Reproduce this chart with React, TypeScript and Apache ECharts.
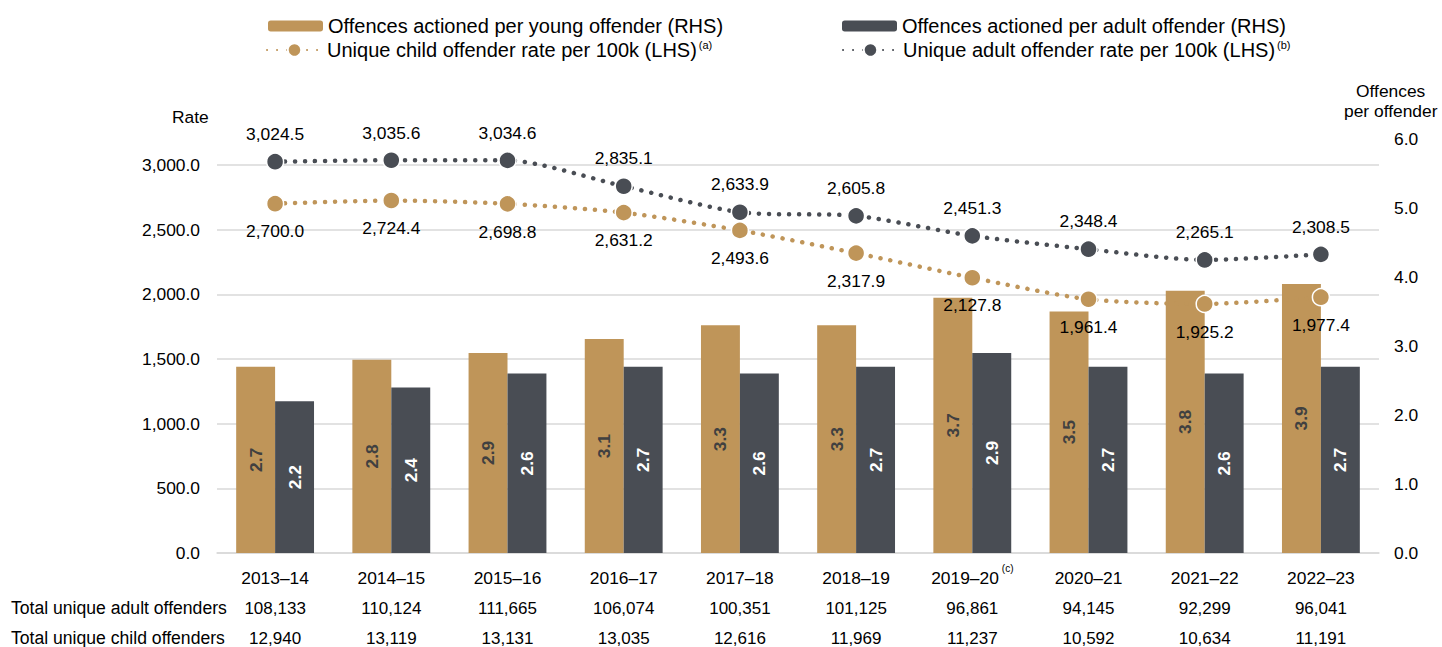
import React, { useEffect, useRef } from "react";
import * as echarts from "echarts";

const categories = ["2013–14", "2014–15", "2015–16", "2016–17", "2017–18", "2018–19", "2019–20", "2020–21", "2021–22", "2022–23"];
const categoryNotes = ["", "", "", "", "", "", "(c)", "", "", ""];
const youngPerOffender = [2.7, 2.8, 2.9, 3.1, 3.3, 3.3, 3.7, 3.5, 3.8, 3.9];
const adultPerOffender = [2.2, 2.4, 2.6, 2.7, 2.6, 2.7, 2.9, 2.7, 2.6, 2.7];
const childRate = [2700.0, 2724.4, 2698.8, 2631.2, 2493.6, 2317.9, 2127.8, 1961.4, 1925.2, 1977.4];
const adultRate = [3024.5, 3035.6, 3034.6, 2835.1, 2633.9, 2605.8, 2451.3, 2348.4, 2265.1, 2308.5];
const totalAdultOffenders = ["108,133", "110,124", "111,665", "106,074", "100,351", "101,125", "96,861", "94,145", "92,299", "96,041"];
const totalChildOffenders = ["12,940", "13,119", "13,131", "13,035", "12,616", "11,969", "11,237", "10,592", "10,634", "11,191"];
const rowHeaders = ["Total unique adult offenders", "Total unique child offenders"];

const NAME_YOUNG = "Offences actioned per young offender (RHS)";
const NAME_ADULT = "Offences actioned per adult offender (RHS)";
const NAME_CHILD_RATE = "Unique child offender rate per 100k (LHS)";
const NAME_ADULT_RATE = "Unique adult offender rate per 100k (LHS)";

const TAN = "#BF9559";
const DARK = "#494D54";
const GRID = "#D9D9D9";
const FONT = "'Liberation Sans', Arial, sans-serif";
const FS = 17.4;
const LFS = 20;

const fmt1 = (v: number) =>
  v.toLocaleString("en-US", { minimumFractionDigits: 1, maximumFractionDigits: 1 });

export default function App() {
  const ref = useRef<HTMLDivElement>(null);

  useEffect(() => {
    if (!ref.current) return;
    const chart = echarts.init(ref.current, undefined, { renderer: "svg" });

    const legendRich = {
      n: { fontSize: LFS, fontFamily: FONT, color: "#000" },
      s: { fontSize: 11, fontFamily: FONT, color: "#000", verticalAlign: "top", padding: [0, 0, 11, 2] },
    };
    const legendFormatter = (name: string) => {
      if (name === NAME_CHILD_RATE) return `{n|${name}}{s|(a)}`;
      if (name === NAME_ADULT_RATE) return `{n|${name}}{s|(b)}`;
      return `{n|${name}}`;
    };
    const mkLegend = (name: string, left: number, top: number, h: number) => ({
      data: [name],
      left,
      top,
      padding: 0,
      itemWidth: 55,
      itemHeight: h,
      itemGap: 0,
      selectedMode: false,
      formatter: legendFormatter,
      textStyle: { fontSize: LFS, fontFamily: FONT, color: "#000", rich: legendRich },
    });

    const lineSeries = (name: string, data: number[], color: string, pos: "top" | "bottom") => ({
      name,
      type: "line",
      yAxisIndex: 0,
      data,
      smooth: 0.25,
      symbol: "circle",
      symbolSize: 17,
      z: 5,
      lineStyle: { color, width: 4.5, type: [0.1, 9.9], cap: "round" },
      itemStyle: { color, borderColor: "#fff", borderWidth: 1.5 },
      label: {
        show: true,
        position: pos,
        distance: 10,
        formatter: (p: any) => fmt1(p.value),
        fontSize: FS,
        fontFamily: FONT,
        color: "#000",
      },
    });

    chart.setOption({
      animation: false,
      textStyle: { fontFamily: FONT },
      legend: [
        mkLegend(NAME_YOUNG, 268, 16, 11),
        mkLegend(NAME_CHILD_RATE, 266, 39, 17),
        mkLegend(NAME_ADULT, 842, 16, 11),
        mkLegend(NAME_ADULT_RATE, 842, 39, 17),
      ],
      grid: { left: 217, right: 63, top: 139, bottom: 94, containLabel: false },
      xAxis: {
        type: "category",
        data: categories,
        axisTick: { show: false },
        axisLine: { lineStyle: { color: GRID, width: 1.5 } },
        axisLabel: {
          interval: 0,
          margin: 10,
          formatter: (v: string, i: number) =>
            `{c|${v}}${categoryNotes[i] ? `{s|${categoryNotes[i]}}` : ""}\n{v|${totalAdultOffenders[i]}}\n{v|${totalChildOffenders[i]}}`,
          rich: {
            c: { fontSize: FS, fontFamily: FONT, color: "#000", lineHeight: 30 },
            v: { fontSize: 17, fontFamily: FONT, color: "#000", lineHeight: 30 },
            s: { fontSize: 10, fontFamily: FONT, color: "#000", verticalAlign: "top", padding: [0, 0, 12, 3] },
          },
        },
      },
      yAxis: [
        {
          type: "value",
          min: 0,
          max: 3200,
          interval: 500,
          axisLine: { show: false },
          axisTick: { show: false },
          axisLabel: {
            showMaxLabel: false,
            margin: 17,
            formatter: (v: number) => fmt1(v),
            fontSize: FS,
            fontFamily: FONT,
            color: "#000",
          },
          splitLine: { show: true, showMaxLine: false, lineStyle: { color: GRID, width: 1.5 } },
        },
        {
          type: "value",
          min: 0,
          max: 6,
          interval: 1,
          position: "right",
          axisLine: { show: false },
          axisTick: { show: false },
          splitLine: { show: false },
          axisLabel: {
            margin: 15,
            formatter: (v: number) => v.toFixed(1),
            fontSize: FS,
            fontFamily: FONT,
            color: "#000",
          },
        },
      ],
      graphic: [
        { type: "text", left: 172, top: 108, style: { text: "Rate", fontSize: FS, fontFamily: FONT, fill: "#000" } },
        { type: "text", left: 1356, top: 82, style: { text: "Offences", fontSize: FS, fontFamily: FONT, fill: "#000" } },
        { type: "text", left: 1344, top: 102, style: { text: "per offender", fontSize: FS, fontFamily: FONT, fill: "#000" } },
        { type: "text", left: 11, top: 599, style: { text: rowHeaders[0], fontSize: 17.6, fontFamily: FONT, fill: "#000" } },
        { type: "text", left: 11, top: 629, style: { text: rowHeaders[1], fontSize: 17.6, fontFamily: FONT, fill: "#000" } },
      ],
      series: [
        {
          name: NAME_YOUNG,
          type: "bar",
          yAxisIndex: 1,
          data: youngPerOffender,
          barGap: "0%",
          barCategoryGap: "33%",
          itemStyle: { color: TAN },
          z: 2,
          label: {
            show: true,
            position: "inside",
            rotate: 90,
            formatter: (p: any) => Number(p.value).toFixed(1),
            fontSize: FS,
            fontWeight: "bold",
            fontFamily: FONT,
            color: "#404040",
          },
        },
        {
          name: NAME_ADULT,
          type: "bar",
          yAxisIndex: 1,
          data: adultPerOffender,
          barGap: "0%",
          barCategoryGap: "33%",
          itemStyle: { color: DARK },
          z: 2,
          label: {
            show: true,
            position: "inside",
            rotate: 90,
            formatter: (p: any) => Number(p.value).toFixed(1),
            fontSize: FS,
            fontWeight: "bold",
            fontFamily: FONT,
            color: "#fff",
          },
        },
        lineSeries(NAME_CHILD_RATE, childRate, TAN, "bottom"),
        lineSeries(NAME_ADULT_RATE, adultRate, DARK, "top"),
      ],
    });

    return () => chart.dispose();
  }, []);

  return (
    <div
      ref={ref}
      style={{ position: "fixed", left: 0, top: 0, width: 1442, height: 647, background: "#fff" }}
    />
  );
}
